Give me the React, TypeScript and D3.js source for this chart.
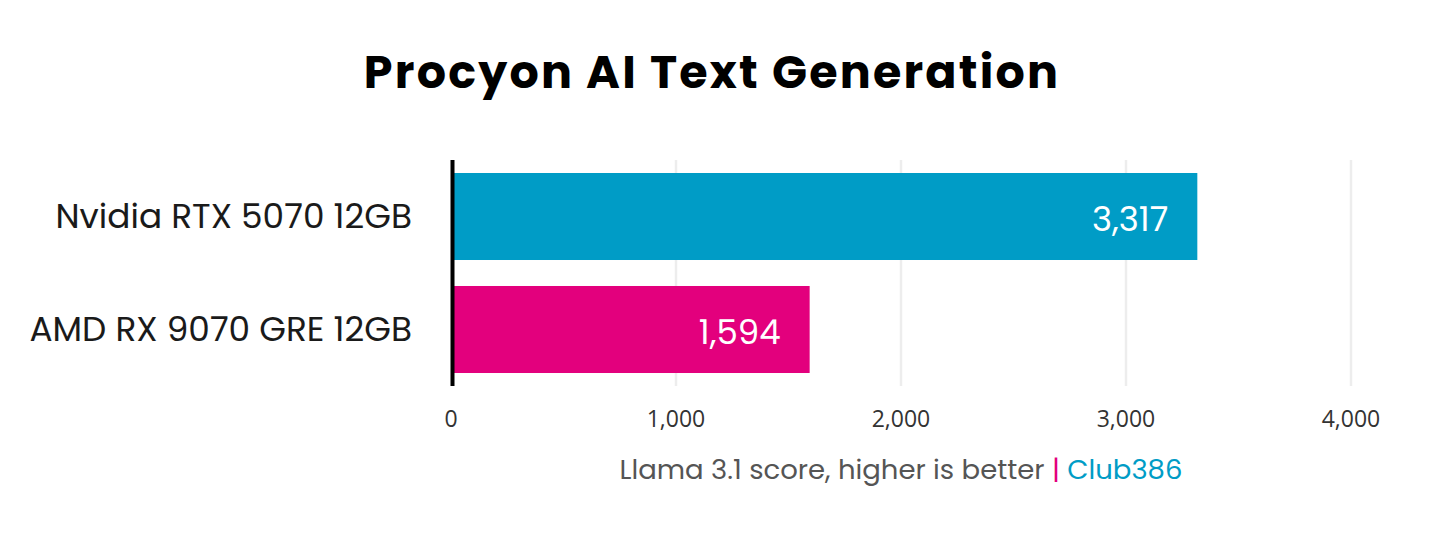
import { useEffect, useRef } from 'react';
import * as d3 from 'd3';

const categories = ['Nvidia RTX 5070 12GB', 'AMD RX 9070 GRE 12GB'];
const scores = [3317, 1594];
const barColors = ['#009cc6', '#e3007d'];
const tickValues = [0, 1000, 2000, 3000, 4000];
const title = 'Procyon AI Text Generation';
const footerText = 'Llama 3.1 score, higher is better';
const footerBrand = 'Club386';

export default function App() {
  const svgRef = useRef<SVGSVGElement | null>(null);

  useEffect(() => {
    const svg = svgRef.current;
    if (!svg) return;

    const width = 1429;
    const height = 546;
    const margin = { top: 160, right: 78, bottom: 160, left: 451 };
    const font = 'Poppins, Inter, "Noto Sans", sans-serif';

    const x = d3
      .scaleLinear()
      .domain([0, 4000])
      .range([margin.left, width - margin.right]);

    const y = d3
      .scaleBand<string>()
      .domain(categories)
      .range([margin.top, height - margin.bottom])
      .paddingInner(0.23)
      .paddingOuter(0.115);

    const root = d3.select(svg);
    root.attr('viewBox', `0 0 ${width} ${height}`);
    root.selectAll('*').remove();

    root.append('rect').attr('width', width).attr('height', height).attr('fill', '#fff');

    // title
    root
      .append('text')
      .attr('x', 712)
      .attr('y', 88)
      .attr('text-anchor', 'middle')
      .attr('font-family', font)
      .attr('font-weight', 700)
      .attr('font-size', 46)
      .attr('letter-spacing', 2.2)
      .attr('fill', '#000')
      .text(title);

    // gridlines
    root
      .append('g')
      .selectAll('line')
      .data(tickValues.slice(1))
      .join('line')
      .attr('x1', (d) => x(d))
      .attr('x2', (d) => x(d))
      .attr('y1', margin.top)
      .attr('y2', height - margin.bottom)
      .attr('stroke', '#ededed')
      .attr('stroke-width', 2.5);

    // bars
    const data = categories.map((c, i) => ({ name: c, value: scores[i], color: barColors[i] }));

    root
      .append('g')
      .selectAll('rect')
      .data(data)
      .join('rect')
      .attr('x', x(0))
      .attr('y', (d) => y(d.name)!)
      .attr('width', (d) => x(d.value) - x(0))
      .attr('height', y.bandwidth())
      .attr('fill', (d) => d.color);

    root
      .append('g')
      .selectAll('text')
      .data(data)
      .join('text')
      .attr('x', (d) => x(d.value) - 29)
      .attr('y', (d) => y(d.name)! + y.bandwidth() / 2 + 14.5)
      .attr('text-anchor', 'end')
      .attr('font-family', font)
      .attr('font-size', 34)
      .attr('fill', '#fff')
      .text((d) => d3.format(',')(d.value));

    // category labels
    root
      .append('g')
      .selectAll('text')
      .data(categories)
      .join('text')
      .attr('x', 412)
      .attr('y', (d) => y(d)! + y.bandwidth() / 2 + 11)
      .attr('text-anchor', 'end')
      .attr('font-family', font)
      .attr('font-size', 34.3)
      .attr('fill', '#1a1a1a')
      .text((d) => d);

    // baseline
    root
      .append('line')
      .attr('x1', x(0) + 1.5)
      .attr('x2', x(0) + 1.5)
      .attr('y1', margin.top)
      .attr('y2', height - margin.bottom)
      .attr('stroke', '#000')
      .attr('stroke-width', 4);

    // x tick labels
    root
      .append('g')
      .selectAll('text')
      .data(tickValues)
      .join('text')
      .attr('x', (d) => x(d))
      .attr('y', 427)
      .attr('text-anchor', 'middle')
      .attr('font-family', '"Open Sans", sans-serif')
      .attr('font-size', 23)
      .attr('fill', '#333')
      .text((d) => d3.format(',')(d));

    // footer
    const footer = root
      .append('text')
      .attr('x', (x(0) + x(4000)) / 2)
      .attr('y', 479)
      .attr('text-anchor', 'middle')
      .attr('font-family', font)
      .attr('font-size', 27.5)
      .attr('fill', '#555');
    footer.append('tspan').text(footerText + ' ');
    footer.append('tspan').attr('fill', '#e3007d').text('|');
    footer.append('tspan').attr('fill', '#009cc6').text(' ' + footerBrand);
  }, []);

  return <svg ref={svgRef} width={1429} height={546} style={{ display: 'block', margin: -8 }} />;
}
